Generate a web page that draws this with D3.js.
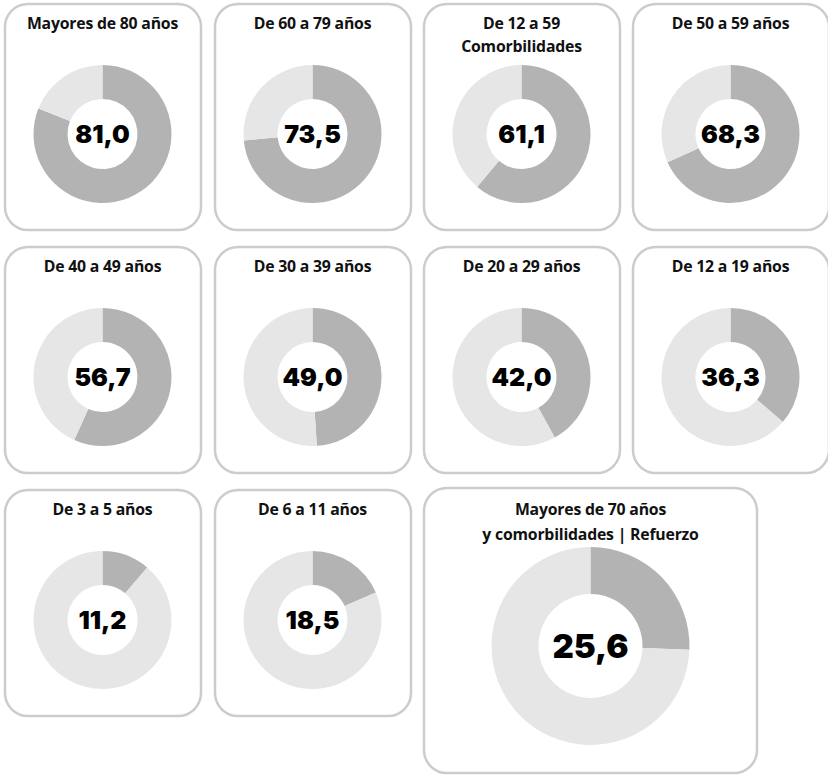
<!DOCTYPE html>
<html>
<head>
<meta charset="utf-8">
<script src="https://cdn.jsdelivr.net/npm/d3@7"></script>
<style>
  html, body { margin: 0; padding: 0; background: #fff; }
  svg { display: block; }
  .title { font-family: "Open Sans", "Noto Sans", sans-serif; font-weight: 700; fill: #111; }
  .value { font-family: Inter, "Noto Sans", sans-serif; font-weight: 900; fill: #000; }
</style>
</head>
<body>
<svg id="chart" width="828" height="776"></svg>
<script>
// ---- Data ----
const titles = [
  ["Mayores de 80 años"],
  ["De 60 a 79 años"],
  ["De 12 a 59", "Comorbilidades"],
  ["De 50 a 59 años"],
  ["De 40 a 49 años"],
  ["De 30 a 39 años"],
  ["De 20 a 29 años"],
  ["De 12 a 19 años"],
  ["De 3 a 5 años"],
  ["De 6 a 11 años"],
  ["Mayores de 70 años", "y comorbilidades | Refuerzo"]
];
const values = [81.0, 73.5, 61.1, 68.3, 56.7, 49.0, 42.0, 36.3, 11.2, 18.5, 25.6];
const valueLabels = ["81,0", "73,5", "61,1", "68,3", "56,7", "49,0", "42,0", "36,3", "11,2", "18,5", "25,6"];

// ---- Layout ----
const colX = [5, 215, 424, 633];
const rowY = [4, 247, 490];
const cards = values.map((v, i) => {
  if (i === 10) {
    return { x: 424, y: 488, w: 333, h: 285, cx: 590.5, cy: 646, rOut: 99, rIn: 52, fs: 33, ty: 27, big: true };
  }
  const r = Math.floor(i / 4), c = i % 4;
  return { x: colX[c], y: rowY[r], w: 196, h: 226, cx: colX[c] + 97.5, cy: rowY[r] + 130, rOut: 69, rIn: 35, fs: 25, ty: 25, big: false };
});

const svg = d3.select("#chart");
const pie = d3.pie().sort(null).value(d => d);

const g = svg.selectAll("g.card").data(values).join("g").attr("class", "card");

g.append("rect")
  .attr("x", (d, i) => cards[i].x)
  .attr("y", (d, i) => cards[i].y)
  .attr("width", (d, i) => cards[i].w)
  .attr("height", (d, i) => cards[i].h)
  .attr("rx", 23).attr("ry", 23)
  .attr("fill", "#fff")
  .attr("stroke", "#cccccc")
  .attr("stroke-width", 2.5);

g.each(function(d, i) {
  const c = cards[i];
  const sel = d3.select(this);
  const arc = d3.arc().innerRadius(c.rIn).outerRadius(c.rOut);
  const slices = pie([d, 100 - d]);
  sel.append("g")
    .attr("transform", `translate(${c.cx},${c.cy})`)
    .selectAll("path").data(slices).join("path")
    .attr("d", arc)
    .attr("fill", (s, k) => k === 0 ? "#b3b3b3" : "#e6e6e6");

  const t = sel.append("text")
    .attr("class", "title")
    .attr("text-anchor", "middle")
    .attr("font-size", 15.8)
    .attr("letter-spacing", -0.2);
  titles[i].forEach((line, k) => {
    t.append("tspan")
      .attr("x", c.cx)
      .attr("y", c.y + c.ty + k * (c.big ? 25 : 23))
      .text(line);
  });

  sel.append("text")
    .attr("class", "value")
    .attr("x", c.cx)
    .attr("y", c.cy)
    .attr("dy", "0.36em")
    .attr("text-anchor", "middle")
    .attr("font-size", c.fs)
    .text(valueLabels[i]);
});
</script>
</body>
</html>
